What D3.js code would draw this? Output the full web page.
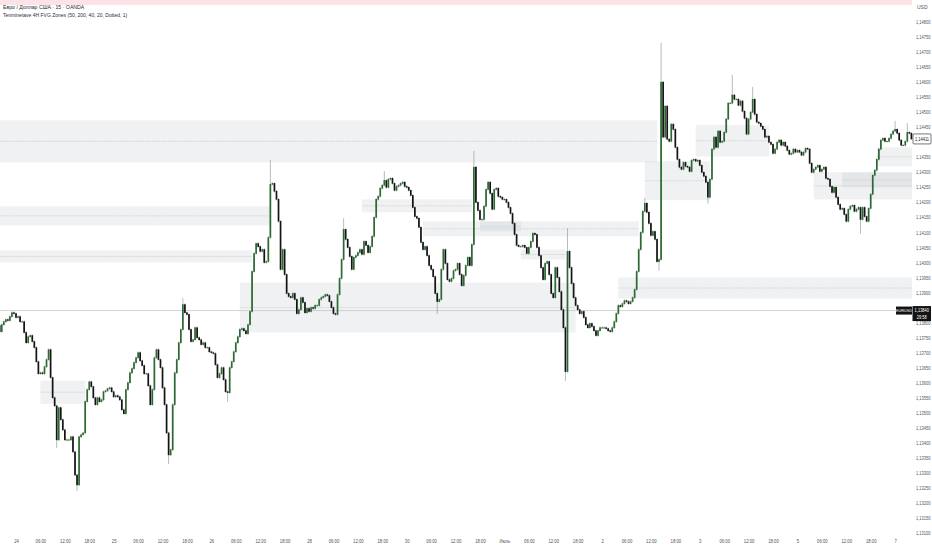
<!DOCTYPE html>
<html><head><meta charset="utf-8">
<script src="https://cdn.jsdelivr.net/npm/d3@7"></script>
<style>body{margin:0;background:#fff}svg{display:block}text{font-family:"Liberation Sans",Arial,sans-serif}</style>
</head><body><svg id="c" width="932" height="550"></svg>
<script>
const title = "Евро / Доллар США · 15 · OANDA";
const indicator = "Tenminetave 4H FVG Zones (50, 200, 40, 20, Dotted, 1)";
const currency = "USD";
const timeLabels = ["24","06:00","12:00","18:00","25","06:00","12:00","18:00","26","06:00","12:00","18:00","28","06:00","12:00","18:00","30","06:00","12:00","18:00","Июль","06:00","12:00","18:00","2","06:00","12:00","18:00","3","06:00","12:00","18:00","5","06:00","12:00","18:00","7"];
const priceTicks = [1.148,1.1475,1.147,1.1465,1.146,1.1455,1.145,1.1445,1.144,1.1435,1.143,1.1425,1.142,1.1415,1.141,1.1405,1.14,1.1395,1.139,1.1385,1.138,1.1375,1.137,1.1365,1.136,1.1355,1.135,1.1345,1.134,1.1335,1.133,1.1325,1.132,1.1315,1.131];
const firstOpen = 1.13790;
const closes = [
1.13770,1.13793,1.13803,1.13810,1.13807,1.13820,1.13833,1.13830,1.13817,1.13820,
1.13803,1.13803,1.13767,1.13733,1.13753,1.13757,1.13737,1.13717,1.13670,1.13630,
1.13633,1.13630,1.13653,1.13677,1.13710,1.13617,1.13550,1.13523,1.13410,1.13517,
1.13477,1.13443,1.13410,1.13410,1.13410,1.13420,1.13370,1.13293,1.13260,1.13420,
1.13427,1.13433,1.13537,1.13577,1.13603,1.13587,1.13550,1.13527,1.13550,1.13537,
1.13543,1.13570,1.13573,1.13580,1.13583,1.13570,1.13553,1.13557,1.13553,1.13543,
1.13510,1.13497,1.13577,1.13600,1.13633,1.13647,1.13667,1.13683,1.13700,1.13673,
1.13657,1.13630,1.13630,1.13590,1.13527,1.13577,1.13683,1.13710,1.13677,1.13650,
1.13583,1.13527,1.13433,1.13360,1.13377,1.13527,1.13633,1.13677,1.13733,1.13777,
1.13860,1.13833,1.13827,1.13777,1.13737,1.13743,1.13783,1.13750,1.13743,1.13727,
1.13733,1.13717,1.13717,1.13703,1.13700,1.13697,1.13660,1.13617,1.13630,1.13650,
1.13610,1.13570,1.13567,1.13650,1.13670,1.13703,1.13733,1.13753,1.13777,1.13780,
1.13773,1.13763,1.13793,1.13837,1.13970,1.14030,1.14063,1.14053,1.14037,1.14043,
1.14000,1.14003,1.14083,1.14260,1.14263,1.14237,1.14210,1.14137,1.13977,1.14043,
1.13960,1.13897,1.13887,1.13883,1.13897,1.13877,1.13830,1.13843,1.13883,1.13867,
1.13833,1.13847,1.13837,1.13850,1.13847,1.13857,1.13857,1.13877,1.13883,1.13887,
1.13893,1.13890,1.13870,1.13850,1.13830,1.13827,1.13893,1.13947,1.14010,1.14110,
1.14077,1.14050,1.14020,1.13977,1.14017,1.14023,1.14033,1.14043,1.14027,1.14070,
1.14057,1.14033,1.14053,1.14087,1.14150,1.14210,1.14220,1.14247,1.14257,1.14273,
1.14250,1.14277,1.14280,1.14263,1.14240,1.14253,1.14257,1.14263,1.14267,1.14253,
1.14250,1.14240,1.14223,1.14183,1.14153,1.14147,1.14117,1.14067,1.14043,1.14053,
1.14023,1.13990,1.13977,1.13953,1.13897,1.13870,1.13877,1.13977,1.14043,1.13997,
1.13943,1.13937,1.13947,1.13973,1.13977,1.13997,1.13960,1.13923,1.13957,1.13990,
1.14017,1.13990,1.14060,1.14317,1.14200,1.14173,1.14143,1.14143,1.14187,1.14243,
1.14267,1.14230,1.14177,1.14243,1.14247,1.14220,1.14217,1.14210,1.14210,1.14200,
1.14183,1.14163,1.14130,1.14093,1.14057,1.14053,1.14053,1.14057,1.14050,1.14030,
1.14050,1.14070,1.14097,1.14093,1.14050,1.14023,1.13983,1.13943,1.13997,1.14003,
1.13960,1.13897,1.13883,1.13983,1.13950,1.13903,1.13843,1.13783,1.13637,1.14037,
1.13983,1.13930,1.13883,1.13857,1.13843,1.13830,1.13837,1.13817,1.13793,1.13783,
1.13797,1.13787,1.13773,1.13757,1.13773,1.13783,1.13783,1.13783,1.13780,1.13773,
1.13770,1.13783,1.13803,1.13830,1.13857,1.13853,1.13863,1.13873,1.13870,1.13863,
1.13870,1.13883,1.13910,1.13970,1.14043,1.14100,1.14170,1.14197,1.14167,1.14130,
1.14090,1.14103,1.14077,1.14003,1.14010,1.14600,1.14417,1.14520,1.14410,1.14403,
1.14460,1.14443,1.14383,1.14343,1.14317,1.14310,1.14333,1.14320,1.14317,1.14303,
1.14340,1.14343,1.14337,1.14340,1.14323,1.14300,1.14287,1.14267,1.14217,1.14277,
1.14377,1.14417,1.14383,1.14437,1.14400,1.14403,1.14433,1.14477,1.14530,1.14530,
1.14557,1.14543,1.14543,1.14523,1.14537,1.14503,1.14480,1.14427,1.14477,1.14500,
1.14543,1.14493,1.14467,1.14463,1.14453,1.14443,1.14417,1.14420,1.14400,1.14393,
1.14363,1.14377,1.14400,1.14407,1.14390,1.14400,1.14387,1.14373,1.14360,1.14363,
1.14377,1.14367,1.14373,1.14367,1.14357,1.14367,1.14380,1.14377,1.14330,1.14300,
1.14310,1.14317,1.14323,1.14303,1.14310,1.14317,1.14280,1.14277,1.14253,1.14233,
1.14250,1.14217,1.14193,1.14177,1.14180,1.14160,1.14137,1.14177,1.14187,1.14190,
1.14170,1.14177,1.14183,1.14143,1.14183,1.14153,1.14137,1.14180,1.14227,1.14290,
1.14307,1.14343,1.14377,1.14407,1.14413,1.14403,1.14403,1.14413,1.14427,1.14437,
1.14443,1.14430,1.14407,1.14390,1.14390,1.14403,1.14433,1.14430,1.14411];
const wickHighs = [[90,1.13877],[133,1.14337],[169,1.14143],[189,1.14300],[233,1.14367],[279,1.14110],[317,1.14210],[325,1.14727],[360,1.14620],[370,1.14580],[440,1.14467],[446,1.14460]];
const wickLows = [[28,1.13387],[38,1.13243],[83,1.13333],[112,1.13540],[215,1.13833],[278,1.13610],[324,1.13977],[348,1.14200],[423,1.14100]];
// FVG zones: [startBar, endBar, top, bottom]
const zones = [
 [-2,323,1.14473,1.14333],
 [-2,133,1.14187,1.14123],
 [-2,124,1.14040,1.14000],
 [118,283,1.13933,1.13767],
 [20,42,1.13607,1.13530],
 [178,232,1.14210,1.14167],
 [208,314,1.14137,1.14087],
 [236,256,1.14137,1.14103],
 [256,278,1.14043,1.14010],
 [304,449,1.13950,1.13880],
 [317,349,1.14337,1.14207],
 [342,378,1.14457,1.14353],
 [400,449,1.14300,1.14210],
 [414,449,1.14300,1.14250],
 [431,449,1.14383,1.14320]
];
const lastPrice = 1.14411;
const linePrice = 1.13840;
const symbol = "EURUSD";
const countdown = "29:58";

const svg = d3.select("#c");
const x = d3.scaleLinear().domain([0, 448]).range([-0.28, 911.4]);
const y = d3.scaleLinear().domain([1.131, 1.148]).range([533, 22]);
const fmt = v => v.toFixed(5).replace(".", ",");
const FONT = "Liberation Sans, Arial, sans-serif";

// top banner
svg.append("rect").attr("x",0).attr("y",0).attr("width",912).attr("height",5).attr("fill","#fce3e7");

// zones
const zg = svg.append("g");
zones.forEach(z => {
  const x0 = Math.max(0, x(z[0])), x1 = Math.min(912, x(z[1]));
  zg.append("rect").attr("x", x0).attr("y", y(z[2])).attr("width", x1 - x0)
    .attr("height", y(z[3]) - y(z[2])).attr("fill", "#cdd2d8").attr("fill-opacity", 0.32);
  zg.append("line").attr("x1", x0).attr("x2", x1)
    .attr("y1", y((z[2]+z[3])/2)).attr("y2", y((z[2]+z[3])/2))
    .attr("stroke", "#c4c7cc").attr("stroke-width", 0.6).attr("stroke-dasharray","1.5,0.8");
});

// price line
svg.append("line").attr("x1",0).attr("x2",912).attr("y1",y(linePrice)).attr("y2",y(linePrice))
  .attr("stroke","#b5b7bb").attr("stroke-width",0.6);

// candles
const bars = closes.map((c, i) => {
  const o = i === 0 ? firstOpen : closes[i-1];
  return {i, o, c, h: Math.max(o, c), l: Math.min(o, c)};
});
wickHighs.forEach(([i, v]) => { bars[i].h = Math.max(bars[i].h, v); });
wickLows.forEach(([i, v]) => { bars[i].l = Math.min(bars[i].l, v); });

const cg = svg.append("g");
cg.selectAll("line.w").data(bars).join("line").attr("class","w")
  .attr("x1", d => x(d.i)).attr("x2", d => x(d.i))
  .attr("y1", d => y(d.h) - 1.2).attr("y2", d => y(d.l) + 1.2)
  .attr("stroke", "#9a9da2").attr("stroke-width", 0.7);
cg.selectAll("rect.b").data(bars).join("rect").attr("class","b")
  .attr("x", d => x(d.i) - 0.85).attr("width", 1.7)
  .attr("y", d => Math.min(y(d.o), y(d.c)) - 0.3)
  .attr("height", d => Math.max(1, Math.abs(y(d.o) - y(d.c)) + 0.6))
  .attr("fill", d => d.c >= d.o ? "#2d6a33" : "#141414");

// right axis (labels hidden under the price boxes are skipped)
const covered = [y(lastPrice), y(linePrice)];
const shownTicks = priceTicks.filter(v => covered.every(c => Math.abs(y(v) - c) > 4.5));
const ya = d3.axisRight(y).tickValues(shownTicks).tickFormat(fmt).tickSize(0).tickPadding(0);
const yg = svg.append("g").attr("transform","translate(916,0) scale(0.8,1)").call(ya);
yg.select(".domain").remove();
yg.selectAll("text").attr("font-size", 5).attr("fill", "#50535e").attr("font-family", FONT);
svg.append("text").attr("x",917).attr("y",9).attr("font-size",5).attr("fill","#50535e")
  .attr("font-family", FONT).text(currency);

// bottom axis
const tickBars = timeLabels.map((_, j) => 8 + 12 * j);
const xa = d3.axisBottom(x).tickValues(tickBars).tickFormat((d, i) => timeLabels[i]).tickSize(0).tickPadding(0);
const xg = svg.append("g").attr("transform","translate(0,539.5)").call(xa);
xg.select(".domain").remove();
xg.selectAll("text").attr("font-size", 5).attr("fill", "#50535e").attr("font-family", FONT)
  .attr("transform","scale(0.85,1)").attr("x", function(){ return 0; });
xg.selectAll(".tick").each(function(){
  // keep centring after horizontal squeeze
  const t = d3.select(this).attr("transform");
});

// last price box
const ly = y(lastPrice);
svg.append("rect").attr("x",913).attr("y",ly-5).attr("width",18).attr("height",10)
  .attr("fill","#fff").attr("stroke","#3a3a3a").attr("stroke-width",0.7).attr("rx",1);
svg.append("text").attr("transform",`translate(922,${ly+1.8}) scale(0.8,1)`).attr("text-anchor","middle")
  .attr("font-size",5).attr("fill","#222").attr("font-family", FONT).text(fmt(lastPrice));

// symbol price label
const py = y(linePrice);
svg.append("rect").attr("x",896).attr("y",py-4).attr("width",16).attr("height",8).attr("fill","#131313");
svg.append("text").attr("transform",`translate(904,${py+1.6}) scale(0.85,1)`).attr("text-anchor","middle")
  .attr("font-size",4.4).attr("fill","#fff").attr("font-family", FONT).text(symbol);
svg.append("rect").attr("x",912.5).attr("y",py-4.5).attr("width",18.5).attr("height",15).attr("fill","#131313");
svg.append("text").attr("transform",`translate(921.8,${py+1.8}) scale(0.8,1)`).attr("text-anchor","middle")
  .attr("font-size",5).attr("fill","#fff").attr("font-family", FONT).text(fmt(linePrice));
svg.append("text").attr("transform",`translate(921.8,${py+8}) scale(0.8,1)`).attr("text-anchor","middle")
  .attr("font-size",5).attr("fill","#fff").attr("font-family", FONT).text(countdown);

// titles
svg.append("text").attr("x",3).attr("y",9).attr("font-size",5.2).attr("fill","#2a2e39").attr("font-family", FONT).text(title);
svg.append("text").attr("x",3).attr("y",17).attr("font-size",5).attr("fill","#2a2e39").attr("font-family", FONT).text(indicator);
</script></body></html>
